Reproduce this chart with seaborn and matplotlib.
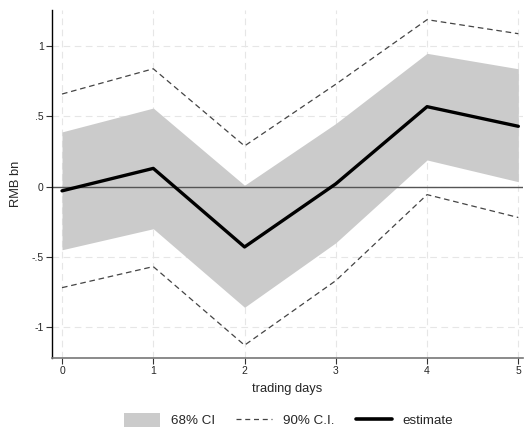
import numpy as np
import pandas as pd
import matplotlib
matplotlib.use("Agg")
import matplotlib.pyplot as plt
import seaborn as sns
from matplotlib.patches import Patch
from matplotlib.lines import Line2D

# Impulse response of flows over trading days
days = [0, 1, 2, 3, 4, 5]
estimate = [-0.03, 0.13, -0.43, 0.02, 0.57, 0.43]
ci68_upper = [0.39, 0.56, 0.01, 0.45, 0.95, 0.84]
ci68_lower = [-0.45, -0.30, -0.86, -0.40, 0.19, 0.035]
ci90_upper = [0.66, 0.84, 0.29, 0.73, 1.19, 1.09]
ci90_lower = [-0.72, -0.57, -1.13, -0.67, -0.057, -0.22]

ytick_vals = [-1, -0.5, 0, 0.5, 1]
ytick_labels = ["-1", "-.5", "0", ".5", "1"]

sns.set_theme(style="white")
plt.rcParams["font.family"] = ["Liberation Sans", "DejaVu Sans"]

df = pd.DataFrame({
    "day": days,
    "estimate": estimate,
    "lo68": ci68_lower,
    "hi68": ci68_upper,
    "lo90": ci90_lower,
    "hi90": ci90_upper,
})

fig = plt.figure(figsize=(5.25, 4.28), dpi=100)
ax = fig.add_axes([0.099, 0.164, 0.897, 0.813])

grid_kw = dict(color="#e6e6e6", lw=0.8, ls=(0, (6, 4)), zorder=0)
for x in days:
    ax.axvline(x, **grid_kw)
for y in ytick_vals:
    ax.axhline(y, **grid_kw)

ax.fill_between(df["day"], df["lo68"], df["hi68"], color="#cbcbcb", lw=0, zorder=1)
ax.axhline(0, color="#555555", lw=1.0, zorder=2)

sns.lineplot(data=df, x="day", y="hi90", ax=ax, color="#444444", lw=0.9,
             zorder=3).lines[-1].set_dashes((4.5, 3))
sns.lineplot(data=df, x="day", y="lo90", ax=ax, color="#444444", lw=0.9,
             zorder=3).lines[-1].set_dashes((4.5, 3))
sns.lineplot(data=df, x="day", y="estimate", ax=ax, color="black", lw=2.4,
             zorder=4)

ax.set_xlim(-0.11, 5.05)
ax.set_ylim(-1.22, 1.26)
ax.set_xticks(days)
ax.set_xticklabels([str(d) for d in days], fontsize=7.5)
ax.set_yticks(ytick_vals)
ax.set_yticklabels(ytick_labels, fontsize=7.5)
ax.tick_params(axis="both", direction="out", length=4, width=0.8,
               color="#333333", pad=2, left=True, bottom=True)

ax.set_xlabel("trading days", fontsize=9.3, labelpad=5)
ax.set_ylabel("RMB bn", fontsize=9.3, labelpad=7)

for side in ["top", "right"]:
    ax.spines[side].set_visible(False)
ax.spines["left"].set_color("black")
ax.spines["left"].set_linewidth(1.0)
ax.spines["bottom"].set_color("#777777")
ax.spines["bottom"].set_linewidth(1.2)

handles = [
    Patch(facecolor="#cbcbcb", edgecolor="none"),
    Line2D([], [], color="#444444", lw=0.9, dashes=(4, 3)),
    Line2D([], [], color="black", lw=2.6),
]
fig.legend(handles, ["68% CI", "90% C.I.", "estimate"], loc="center",
           bbox_to_anchor=(0.55, 0.018), ncol=3, frameon=False,
           fontsize=9.6, handlelength=2.7, handleheight=1.2,
           columnspacing=1.6, handletextpad=0.8)

fig.savefig("out.png", dpi=100)
